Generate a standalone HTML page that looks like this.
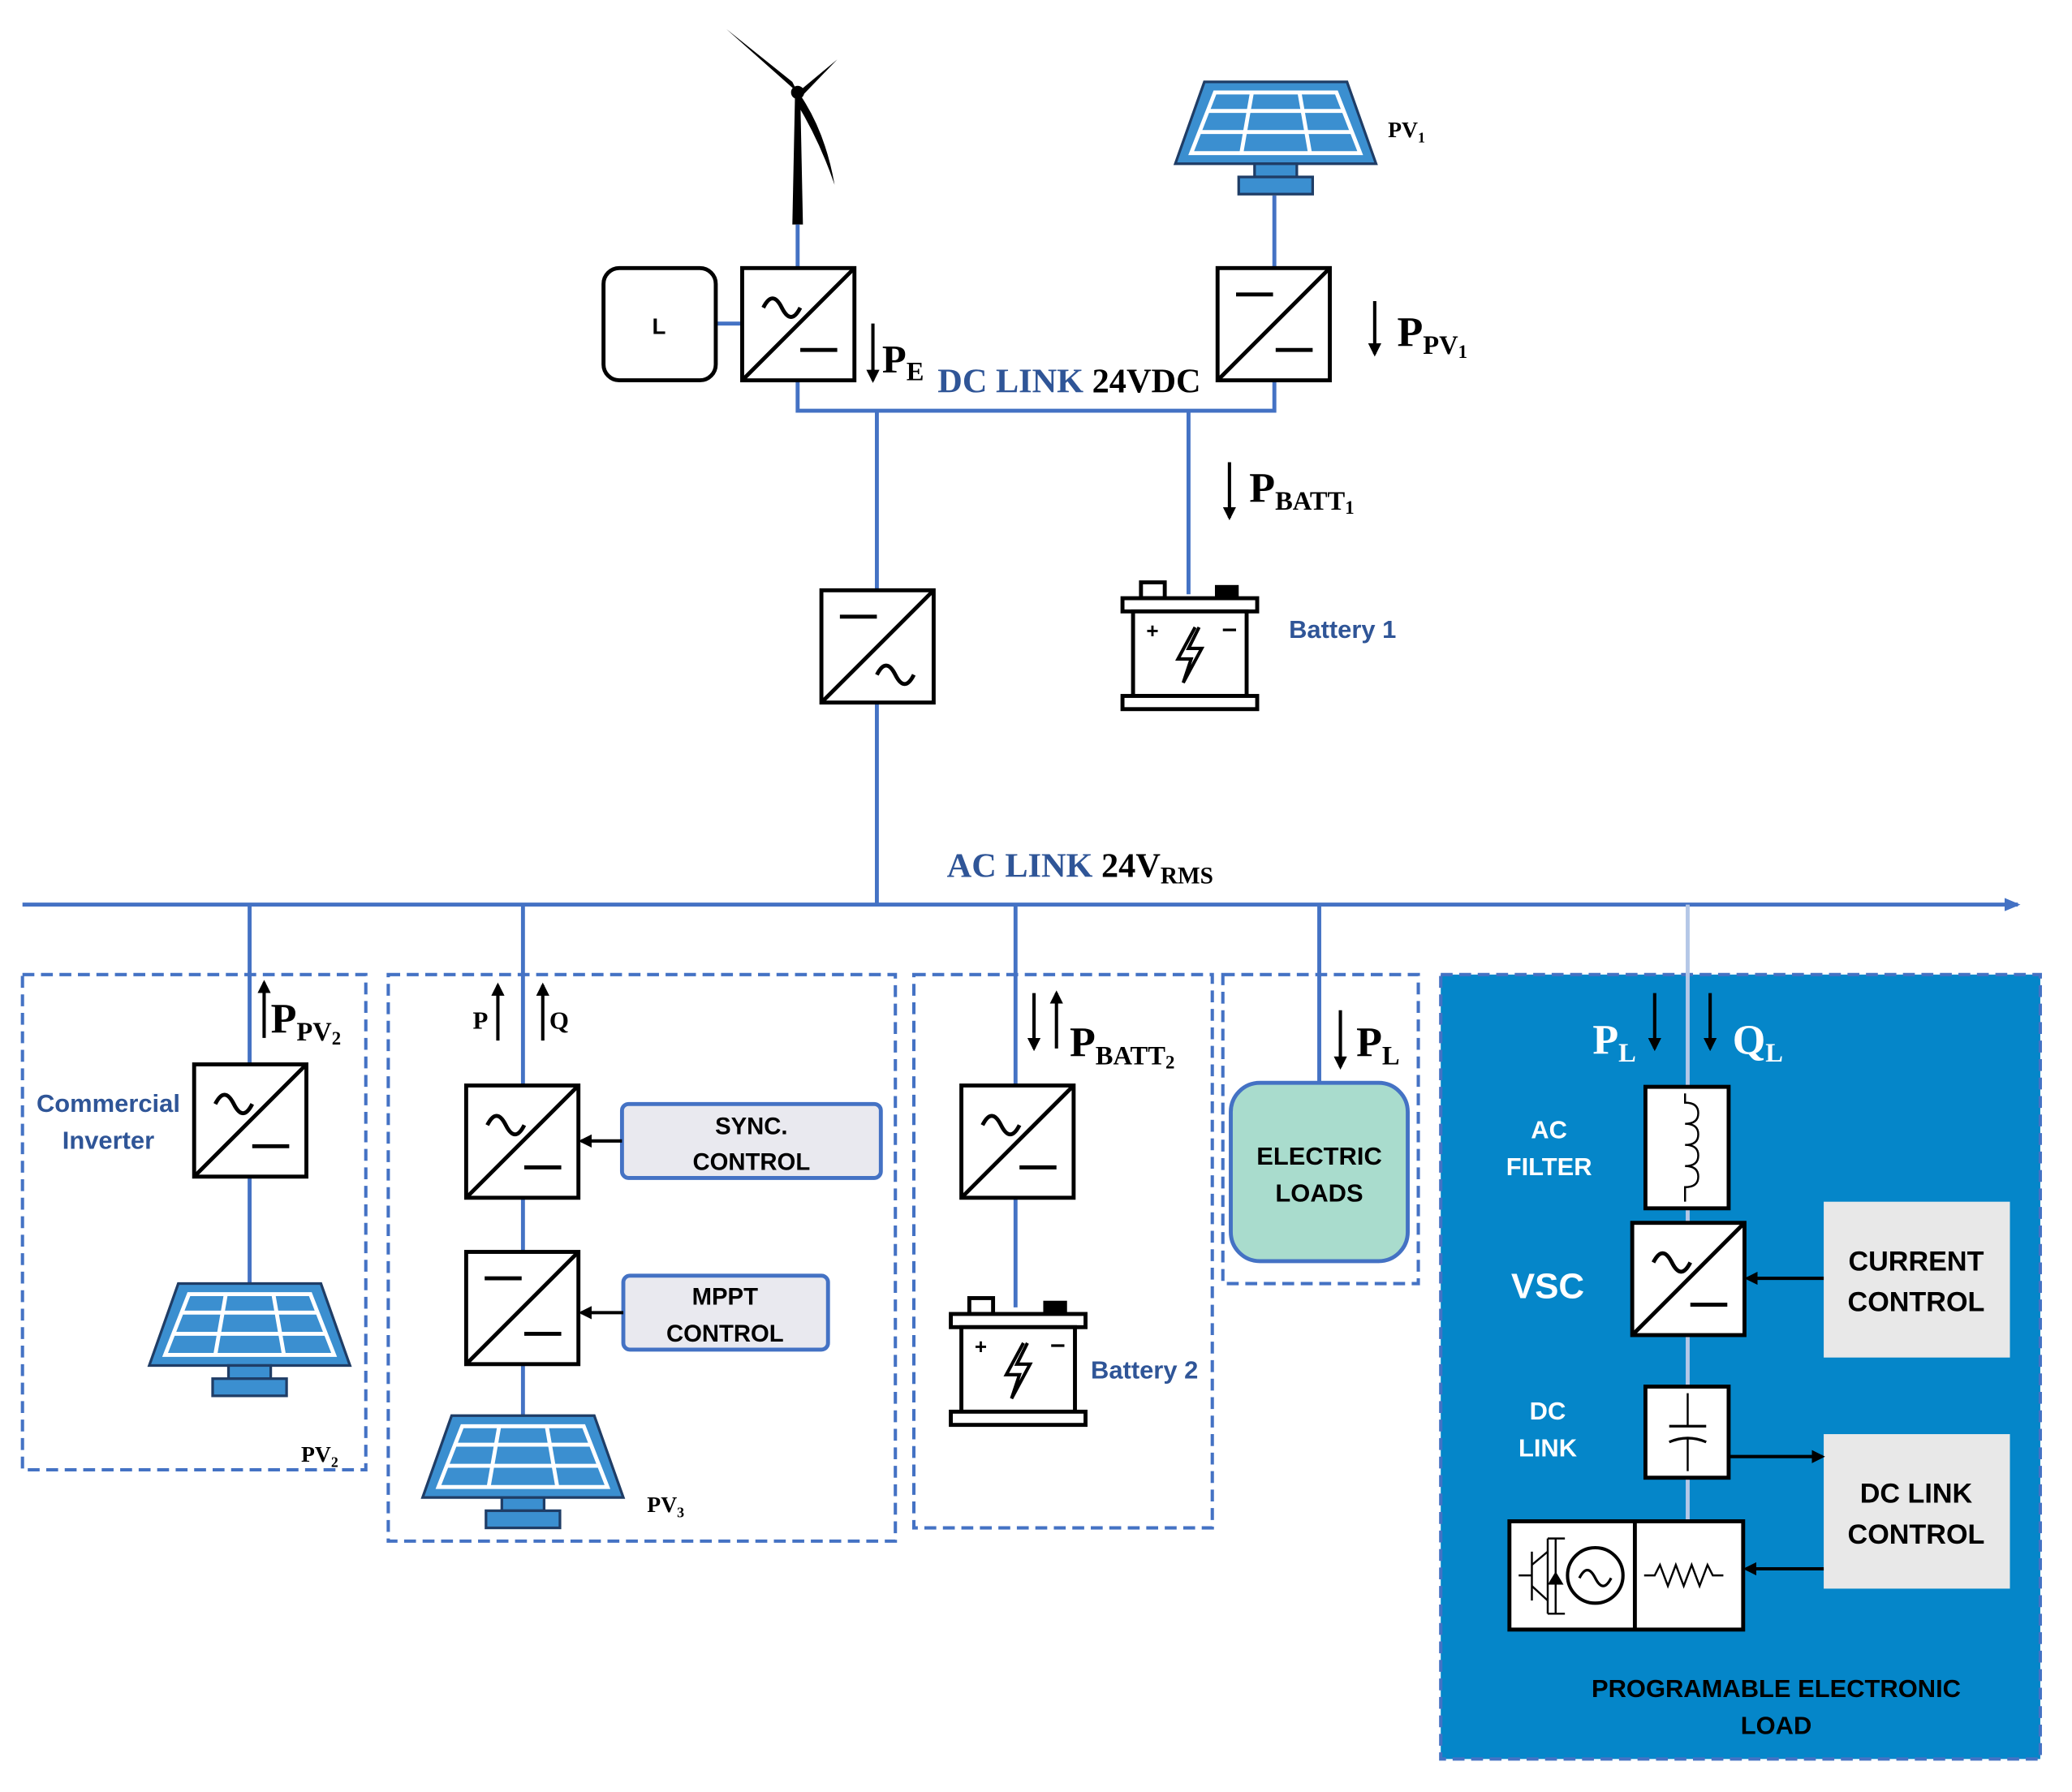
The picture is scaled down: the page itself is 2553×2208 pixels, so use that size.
<!DOCTYPE html>
<html><head><meta charset="utf-8"><style>
html,body{margin:0;padding:0;background:#fff;}
svg{display:block;}
.s{font-family:"Liberation Sans",sans-serif;font-weight:bold;}
.r{font-family:"Liberation Serif",serif;font-weight:bold;}
</style></head><body>
<svg width="2553" height="2208" viewBox="0 0 1569 1357" xmlns="http://www.w3.org/2000/svg">
<defs>
<g id="box"><rect x="0" y="0" width="85" height="85" fill="#fff" stroke="#000" stroke-width="3"/><line x1="0" y1="85" x2="85" y2="0" stroke="#000" stroke-width="3"/></g>
<path id="tl_ac" d="M16 30 q7 -14 14 0 t14 0" fill="none" stroke="#000" stroke-width="3"/>
<line id="br_dc" x1="44" y1="62" x2="72" y2="62" stroke="#000" stroke-width="3"/>
<line id="tl_dc" x1="14" y1="20" x2="42" y2="20" stroke="#000" stroke-width="3"/>
<path id="br_ac" d="M42 64 q7 -14 14 0 t14 0" fill="none" stroke="#000" stroke-width="3"/>
<g id="acdc"><use href="#box"/><use href="#tl_ac"/><use href="#br_dc"/></g>
<g id="dcdc"><use href="#box"/><use href="#tl_dc"/><use href="#br_dc"/></g>
<g id="dcac"><use href="#box"/><use href="#tl_dc"/><use href="#br_ac"/></g>
<g id="panel">
<polygon points="22,0 130,0 152,62 0,62" fill="#3B8FD0" stroke="#1f3d66" stroke-width="2"/>
<polygon points="30,8 122,8 140,54 12,54" fill="#3B8FD0" stroke="#fff" stroke-width="3"/>
<line x1="25" y1="22" x2="127" y2="22" stroke="#fff" stroke-width="3"/>
<line x1="18" y1="38" x2="134" y2="38" stroke="#fff" stroke-width="3"/>
<line x1="58" y1="8" x2="50" y2="54" stroke="#fff" stroke-width="3"/>
<line x1="94" y1="8" x2="102" y2="54" stroke="#fff" stroke-width="3"/>
<rect x="60" y="62" width="32" height="10" fill="#3B8FD0" stroke="#1f3d66" stroke-width="2"/>
<rect x="48" y="72" width="56" height="13" fill="#3B8FD0" stroke="#1f3d66" stroke-width="2"/>
</g>
<g id="batt">
<rect x="14" y="0" width="18" height="12" fill="#fff" stroke="#000" stroke-width="3"/>
<rect x="70" y="2" width="18" height="10" fill="#000"/>
<rect x="0" y="12" width="102" height="10" fill="#fff" stroke="#000" stroke-width="3"/>
<rect x="8" y="22" width="86" height="64" fill="#fff" stroke="#000" stroke-width="3"/>
<rect x="0" y="86" width="102" height="10" fill="#fff" stroke="#000" stroke-width="3"/>
<path d="M55 34 L42 58 L52 58 L46 76 L60 50 L50 50 L58 34" fill="none" stroke="#000" stroke-width="2.5"/>
<text x="18" y="42" font-family="Liberation Sans" font-size="16" font-weight="bold">+</text>
<line x1="76" y1="36" x2="86" y2="36" stroke="#000" stroke-width="2"/>
</g>
<marker id="ah" markerWidth="10" markerHeight="10" refX="8" refY="5" orient="auto" markerUnits="userSpaceOnUse"><path d="M0 0 L10 5 L0 10 Z" fill="#000"/></marker>
<marker id="ahb" markerWidth="12" markerHeight="10" refX="10" refY="5" orient="auto" markerUnits="userSpaceOnUse"><path d="M0 0 L12 5 L0 10 Z" fill="#4472C4"/></marker>
</defs>

<!-- wind turbine -->
<polygon points="600,170 608,170 606,72 602,72" fill="#000"/>
<path d="M604 70 L550 22 L600 62 Z" fill="#000"/>
<path d="M604 70 L634 45 L608 72 Z" fill="#000"/>
<path d="M606 72 Q625 100 632 140 Q620 105 602 76 Z" fill="#000"/>
<circle cx="604" cy="70" r="5" fill="#000"/>
<g stroke="#4472C4" stroke-width="3" fill="none">
<line x1="604" y1="170" x2="604" y2="203"/>
<line x1="542" y1="245" x2="562" y2="245"/>
<line x1="965" y1="148" x2="965" y2="203"/>
<polyline points="604,288 604,311 965,311 965,288"/>
<line x1="664" y1="311" x2="664" y2="447"/>
<line x1="664" y1="532" x2="664" y2="685"/>
<line x1="900" y1="311" x2="900" y2="450"/>
<line x1="17" y1="685" x2="1528" y2="685" marker-end="url(#ahb)"/>
<line x1="189" y1="685" x2="189" y2="806"/>
<line x1="189" y1="890" x2="189" y2="972"/>
<line x1="396" y1="685" x2="396" y2="822"/>
<line x1="396" y1="907" x2="396" y2="948"/>
<line x1="396" y1="1033" x2="396" y2="1072"/>
<line x1="769" y1="685" x2="769" y2="822"/>
<line x1="769" y1="907" x2="769" y2="990"/>
<line x1="999" y1="685" x2="999" y2="820"/>
</g>
<rect x="457" y="203" width="85" height="85" rx="12" fill="#fff" stroke="#000" stroke-width="3"/>
<text x="499" y="253" class="s" font-size="17" text-anchor="middle">L</text>
<use href="#acdc" x="562" y="203"/>
<use href="#dcdc" x="922" y="203"/>
<use href="#panel" x="890" y="62"/>
<text x="1051" y="104" class="r" font-size="17">PV<tspan font-size="11" dy="4">1</tspan></text>
<use href="#dcac" x="622" y="447"/>
<use href="#batt" x="850" y="441"/>
<text x="976" y="483" class="s" font-size="19" fill="#2F5597">Battery 1</text>
<line x1="661" y1="245" x2="661" y2="288" stroke="#000" stroke-width="2.5" marker-end="url(#ah)"/>
<text x="668" y="282" class="r" font-size="30">P<tspan font-size="20" dy="6">E</tspan></text>
<text x="710" y="297" class="r" font-size="26"><tspan fill="#2F5597">DC LINK</tspan> 24VDC</text>
<line x1="1041" y1="228" x2="1041" y2="268" stroke="#000" stroke-width="2.5" marker-end="url(#ah)"/>
<text x="1058" y="262" class="r" font-size="32">P<tspan font-size="20" dy="6">PV</tspan><tspan font-size="14" dy="3">1</tspan></text>
<line x1="931" y1="350" x2="931" y2="392" stroke="#000" stroke-width="2.5" marker-end="url(#ah)"/>
<text x="946" y="380" class="r" font-size="32">P<tspan font-size="20" dy="6">BATT</tspan><tspan font-size="14" dy="3">1</tspan></text>
<text x="717" y="664" class="r" font-size="26"><tspan fill="#2F5597">AC LINK</tspan> 24V<tspan font-size="18" dy="5">RMS</tspan></text>

<g fill="none" stroke="#4472C4" stroke-width="2.5" stroke-dasharray="9,5">
<rect x="17" y="738" width="260" height="375"/>
<rect x="294" y="738" width="384" height="429"/>
<rect x="692" y="738" width="226" height="419"/>
<rect x="926" y="738" width="148" height="234"/>
</g>
<use href="#acdc" x="147" y="806"/>
<use href="#panel" x="113" y="972"/>
<text x="228" y="1107" class="r" font-size="17">PV<tspan font-size="11" dy="4">2</tspan></text>
<text x="82" y="842" class="s" font-size="19" fill="#2F5597" text-anchor="middle">Commercial</text>
<text x="82" y="870" class="s" font-size="19" fill="#2F5597" text-anchor="middle">Inverter</text>
<line x1="200" y1="786" x2="200" y2="744" stroke="#000" stroke-width="2.5" marker-end="url(#ah)"/>
<text x="205" y="782" class="r" font-size="32">P<tspan font-size="20" dy="6">PV</tspan><tspan font-size="14" dy="3">2</tspan></text>
<use href="#acdc" x="353" y="822"/>
<use href="#dcdc" x="353" y="948"/>
<use href="#panel" x="320" y="1072"/>
<text x="490" y="1145" class="r" font-size="17">PV<tspan font-size="11" dy="4">3</tspan></text>
<rect x="471" y="836" width="196" height="56" rx="5" fill="#E9E9EF" stroke="#4472C4" stroke-width="3"/>
<text x="569" y="859" class="s" font-size="18" text-anchor="middle">SYNC.</text>
<text x="569" y="886" class="s" font-size="18" text-anchor="middle">CONTROL</text>
<rect x="472" y="966" width="155" height="56" rx="5" fill="#E9E9EF" stroke="#4472C4" stroke-width="3"/>
<text x="549" y="988" class="s" font-size="18" text-anchor="middle">MPPT</text>
<text x="549" y="1016" class="s" font-size="18" text-anchor="middle">CONTROL</text>
<line x1="471" y1="864" x2="440" y2="864" stroke="#000" stroke-width="2.5" marker-end="url(#ah)"/>
<line x1="472" y1="994" x2="440" y2="994" stroke="#000" stroke-width="2.5" marker-end="url(#ah)"/>
<text x="358" y="779" class="r" font-size="19">P</text>
<line x1="377" y1="788" x2="377" y2="746" stroke="#000" stroke-width="2.5" marker-end="url(#ah)"/>
<line x1="411" y1="788" x2="411" y2="746" stroke="#000" stroke-width="2.5" marker-end="url(#ah)"/>
<text x="416" y="779" class="r" font-size="19">Q</text>
<use href="#acdc" x="728" y="822"/>
<use href="#batt" x="720" y="983"/>
<text x="826" y="1044" class="s" font-size="19" fill="#2F5597">Battery 2</text>
<line x1="783" y1="752" x2="783" y2="794" stroke="#000" stroke-width="2.5" marker-end="url(#ah)"/>
<line x1="800" y1="794" x2="800" y2="752" stroke="#000" stroke-width="2.5" marker-end="url(#ah)"/>
<text x="810" y="800" class="r" font-size="32">P<tspan font-size="20" dy="6">BATT</tspan><tspan font-size="14" dy="3">2</tspan></text>
<line x1="1015" y1="765" x2="1015" y2="808" stroke="#000" stroke-width="2.5" marker-end="url(#ah)"/>
<text x="1027" y="800" class="r" font-size="32">P<tspan font-size="20" dy="6">L</tspan></text>
<rect x="932" y="820" width="134" height="135" rx="22" fill="#A9DCCD" stroke="#4472C4" stroke-width="3"/>
<text x="999" y="882" class="s" font-size="19" text-anchor="middle">ELECTRIC</text>
<text x="999" y="910" class="s" font-size="19" text-anchor="middle">LOADS</text>

<rect x="1091" y="738" width="454" height="594" fill="#0586C9" stroke="#4472C4" stroke-width="2.5" stroke-dasharray="9,5"/>
<line x1="1278" y1="685" x2="1278" y2="1152" stroke="#B4C7E7" stroke-width="3"/>
<text x="1206" y="798" class="r" font-size="32" fill="#fff">P<tspan font-size="20" dy="6">L</tspan></text>
<line x1="1253" y1="752" x2="1253" y2="794" stroke="#000" stroke-width="2.5" marker-end="url(#ah)"/>
<line x1="1295" y1="752" x2="1295" y2="794" stroke="#000" stroke-width="2.5" marker-end="url(#ah)"/>
<text x="1312" y="798" class="r" font-size="32" fill="#fff">Q<tspan font-size="20" dy="6">L</tspan></text>
<rect x="1246" y="823" width="63" height="92" fill="#fff" stroke="#000" stroke-width="3"/>
<path d="M1276 828 L1276 835 q10 0 10 8 q0 8 -10 8 q10 0 10 8 q0 8 -10 8 q10 0 10 8 q0 8 -10 8 q10 0 10 8 q0 8 -10 8 L1276 910" fill="none" stroke="#000" stroke-width="1.5"/>
<text x="1173" y="862" class="s" font-size="19" fill="#fff" text-anchor="middle">AC</text>
<text x="1173" y="890" class="s" font-size="19" fill="#fff" text-anchor="middle">FILTER</text>
<use href="#acdc" x="1236" y="926"/>
<text x="1172" y="983" class="s" font-size="27" fill="#fff" text-anchor="middle">VSC</text>
<rect x="1246" y="1050" width="63" height="69" fill="#fff" stroke="#000" stroke-width="3"/>
<line x1="1278" y1="1055" x2="1278" y2="1080" stroke="#000" stroke-width="1.5"/>
<line x1="1264" y1="1080" x2="1292" y2="1080" stroke="#000" stroke-width="2"/>
<path d="M1264 1092 q14 -6 28 0" fill="none" stroke="#000" stroke-width="2"/>
<line x1="1278" y1="1089" x2="1278" y2="1114" stroke="#000" stroke-width="1.5"/>
<text x="1172" y="1075" class="s" font-size="19" fill="#fff" text-anchor="middle">DC</text>
<text x="1172" y="1103" class="s" font-size="19" fill="#fff" text-anchor="middle">LINK</text>
<rect x="1143" y="1152" width="177" height="82" fill="#fff" stroke="#000" stroke-width="3"/>
<line x1="1238" y1="1152" x2="1238" y2="1234" stroke="#000" stroke-width="3"/>
<circle cx="1208" cy="1193" r="21" fill="none" stroke="#000" stroke-width="2.5"/>
<path d="M1196 1195 q6 -12 12 0 t12 0" fill="none" stroke="#000" stroke-width="2"/>
<g stroke="#000" stroke-width="1.5" fill="none">
<line x1="1160" y1="1175" x2="1160" y2="1212"/><line x1="1150" y1="1193" x2="1160" y2="1193"/>
<line x1="1160" y1="1185" x2="1172" y2="1175"/><line x1="1160" y1="1201" x2="1172" y2="1212"/>
<line x1="1172" y1="1165" x2="1172" y2="1222"/><line x1="1172" y1="1165" x2="1185" y2="1165"/><line x1="1172" y1="1222" x2="1185" y2="1222"/>
<line x1="1178" y1="1165" x2="1178" y2="1222"/>
</g>
<path d="M1172 1200 L1184 1200 L1178 1190 Z" fill="#000"/>
<path d="M1245 1193 l8 0 l4 -8 l6 16 l6 -16 l6 16 l6 -16 l6 16 l6 -16 l4 8 l8 0" fill="none" stroke="#000" stroke-width="1.5"/>
<rect x="1381" y="910" width="141" height="118" fill="#E8E8E8"/>
<text x="1451" y="962" class="s" font-size="21" text-anchor="middle">CURRENT</text>
<text x="1451" y="993" class="s" font-size="21" text-anchor="middle">CONTROL</text>
<rect x="1381" y="1086" width="141" height="117" fill="#E8E8E8"/>
<text x="1451" y="1138" class="s" font-size="21" text-anchor="middle">DC LINK</text>
<text x="1451" y="1169" class="s" font-size="21" text-anchor="middle">CONTROL</text>
<line x1="1381" y1="968" x2="1323" y2="968" stroke="#000" stroke-width="2.5" marker-end="url(#ah)"/>
<line x1="1310" y1="1103" x2="1380" y2="1103" stroke="#000" stroke-width="2.5" marker-end="url(#ah)"/>
<line x1="1381" y1="1188" x2="1322" y2="1188" stroke="#000" stroke-width="2.5" marker-end="url(#ah)"/>
<text x="1345" y="1285" class="s" font-size="19" text-anchor="middle">PROGRAMABLE ELECTRONIC</text>
<text x="1345" y="1313" class="s" font-size="19" text-anchor="middle">LOAD</text>
</svg>
</body></html>
